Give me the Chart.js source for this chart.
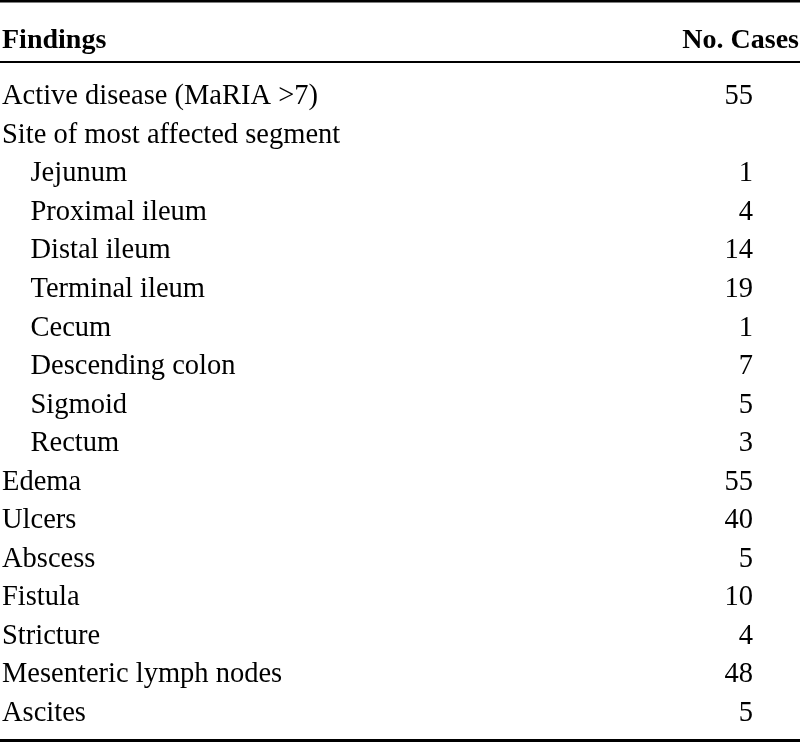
<!DOCTYPE html>
<html>
<head>
<meta charset="utf-8">
<title>Findings table</title>
<script src="https://cdn.jsdelivr.net/npm/chart.js@4/dist/chart.umd.min.js"></script>
<style>
    html, body { margin: 0; padding: 0; background: #fff; }
    #wrap { width: 800px; height: 742px; position: relative; }
</style>
</head>
<body>
<div id="wrap"><canvas id="table1"></canvas></div>
<script>
const headers = ["Findings", "No. Cases"]
const findings = [
    "Active disease (MaRIA >7)",
    "Site of most affected segment",
    "Jejunum",
    "Proximal ileum",
    "Distal ileum",
    "Terminal ileum",
    "Cecum",
    "Descending colon",
    "Sigmoid",
    "Rectum",
    "Edema",
    "Ulcers",
    "Abscess",
    "Fistula",
    "Stricture",
    "Mesenteric lymph nodes",
    "Ascites"
]
const indentLevel = [0, 0, 1, 1, 1, 1, 1, 1, 1, 1, 0, 0, 0, 0, 0, 0, 0]
const cases = [55, null, 1, 4, 14, 19, 1, 7, 5, 3, 55, 40, 5, 10, 4, 48, 5]

const serif = "'Liberation Serif', 'Times New Roman', serif"
const tableCanvas = document.getElementById("table1")

// rules, column headers and the "No. Cases" column
const tableRules = {
    id: "tableRules",
    afterDraw(chart) {
        const ctx = chart.ctx
        const area = chart.chartArea
        ctx.save()
        ctx.fillStyle = "#000"
        ctx.fillRect(0, 0, chart.width, 2.5)
        ctx.fillRect(0, 61, chart.width, 2)
        ctx.fillRect(0, 739, chart.width, 3)

        ctx.font = "bold 28px " + serif
        ctx.textBaseline = "alphabetic"
        ctx.textAlign = "left"
        ctx.fillText(headers[0], 2, 48)
        ctx.textAlign = "right"
        ctx.fillText(headers[1], chart.width - 1, 48)

        // value of each row, on the bar's own y position
        ctx.font = "28.5px " + serif
        ctx.textBaseline = "middle"
        const meta = chart.getDatasetMeta(0)
        meta.data.forEach((bar, i) => {
            if (cases[i] === null) return
            ctx.fillText(String(cases[i]), area.right, bar.y)
        })
        ctx.restore()
    }
}

new Chart(tableCanvas, {
    type: "bar",
    data: {
        labels: findings,
        datasets: [{
            data: cases,
            backgroundColor: "rgba(0,0,0,0)",
            borderWidth: 0
        }]
    },
    options: {
        indexAxis: "y",
        responsive: true,
        maintainAspectRatio: false,
        animation: false,
        events: [],
        layout: {
            padding: { left: 2, right: 47, top: 77.5, bottom: 9.2 }
        },
        plugins: {
            legend: { display: false },
            tooltip: { enabled: false }
        },
        scales: {
            x: { display: false, min: 0, max: 60 },
            y: {
                position: "left",
                grid: { display: false },
                border: { display: false },
                ticks: {
                    autoSkip: false,
                    crossAlign: "far",
                    padding: 0,
                    color: "#000",
                    font: { family: serif, size: 28.5, lineHeight: 0.6 },
                    callback: (v, i) => "    ".repeat(indentLevel[i]) + findings[i]
                }
            }
        }
    },
    plugins: [tableRules]
});
</script>
</body>
</html>
